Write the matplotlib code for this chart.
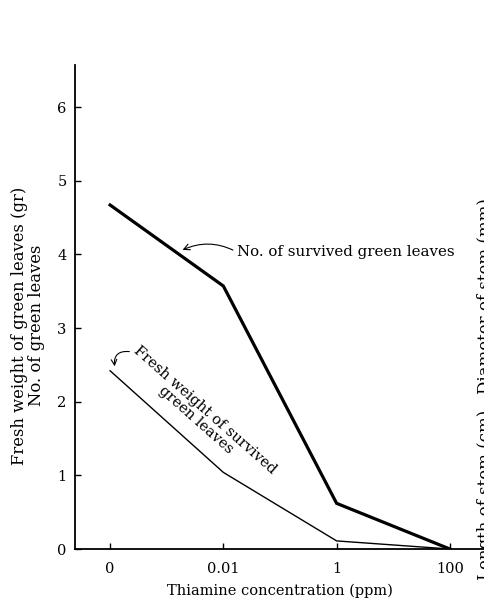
import numpy as np
import matplotlib
matplotlib.use('Agg')
import matplotlib.pyplot as plt

# Thiamine levels (equally spaced categories) and measured responses
conc_labels = ['0', '0.01', '1', '100']
leaf_number = [4.67, 3.57, 0.62, 0.0]   # No. of survived green leaves
leaf_weight = [2.42, 1.04, 0.11, 0.0]   # Fresh weight of survived green leaves (gr)
y_ticks = [0, 1, 2, 3, 4, 5, 6]

plt.rcParams['font.family'] = 'DejaVu Serif'

fig = plt.figure(figsize=(4.85, 6.01), dpi=100)
ax = fig.add_axes([0.1546, 0.0865, 1.0 - 0.1546, 0.8053])

xpos = np.arange(len(conc_labels))
ax.plot(xpos, leaf_number, color='black', linewidth=2.3, solid_joinstyle='miter')
ax.plot(xpos, leaf_weight, color='black', linewidth=1.0)

ax.set_xlim(-0.31, 3.31)
ax.set_ylim(0, 6.57)
ax.set_xticks(xpos)
ax.set_xticklabels(conc_labels)
ax.set_yticks(y_ticks)
ax.tick_params(direction='in', length=4, width=1.0, labelsize=10.5)
ax.tick_params(axis='x', pad=9)
ax.tick_params(axis='y', pad=6)

for side in ['top', 'right']:
    ax.spines[side].set_visible(False)
ax.spines['left'].set_linewidth(1.3)
ax.spines['bottom'].set_linewidth(1.3)

ax.set_xlabel('Thiamine concentration (ppm)', fontsize=10.5, labelpad=6)
ax.set_ylabel('Fresh weight of green leaves (gr)\nNo. of green leaves',
              fontsize=11.8, linespacing=1.05)
ax.yaxis.set_label_coords(-0.072, 0.462)

# leader for the thick line
ax.annotate('No. of survived green leaves', xy=(0.64, 4.06), xytext=(1.12, 4.03),
            fontsize=10.8, va='center', ha='left',
            arrowprops=dict(arrowstyle='->', color='black', lw=0.8,
                            connectionstyle='arc3,rad=0.25', relpos=(0, 0.5),
                            shrinkA=1, shrinkB=0))

# label written along the thin line
ax.text(0.80, 1.82, 'Fresh weight of survived\ngreen leaves', fontsize=10.5,
        rotation=-41.5, rotation_mode='anchor', ha='center', va='center',
        multialignment='center', linespacing=1.0)
ax.annotate('', xy=(0.04, 2.48), xytext=(0.17, 2.68),
            arrowprops=dict(arrowstyle='->', color='black', lw=0.8,
                            connectionstyle='arc3,rad=0.6',
                            shrinkA=0, shrinkB=0))

# right-hand axis title of the neighbouring panel, cut at the page edge
fig.text(0.984, 0.035, 'Length of stem (cm)   Diameter of stem (mm)',
         rotation=90, fontsize=12, ha='left', va='bottom')

fig.savefig('out.png', dpi=100)
